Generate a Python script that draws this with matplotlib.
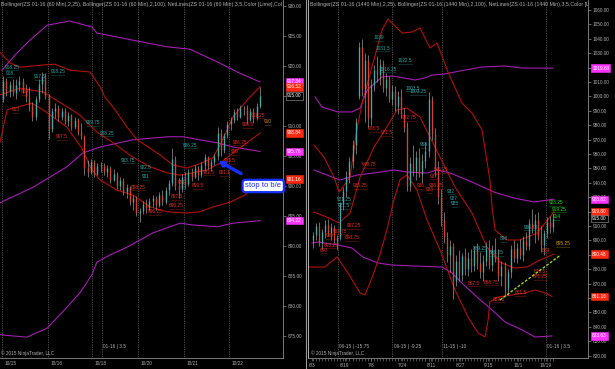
import matplotlib
matplotlib.use('Agg')
import matplotlib.pyplot as plt
from matplotlib.lines import Line2D
from matplotlib.transforms import blended_transform_factory

plt.rcParams['font.family'] = ['Liberation Sans', 'DejaVu Sans']

# ---------------- 60 min panel (left) ----------------
l_open = [914.5, 917.5, 915.75, 917, 915.5, 916.75, 917.5, 916, 914.75, 913.5,
          911.5, 914.5, 917, 918.25, 915, 909.5, 912.5, 913, 911.5, 912.5,
          910.75, 911.75, 909.75, 911, 909, 908.25, 903, 902.25, 904, 902,
          903.25, 903.5, 902.25, 903, 901, 902, 900, 901, 899, 899.75,
          897.25, 898, 895.5, 895.75, 897, 896.25, 897.5, 898, 896.75, 898.5,
          897.25, 899.25, 900.5, 904.5, 900, 899.5, 901.5, 900.25, 902.25, 901.5,
          903, 901.75, 903.5, 904.75, 903.25, 904, 905, 908.75, 906, 908.5,
          910.25, 911, 912.25, 911.5, 913, 912.75, 911, 912.5, 911.25, 913.25]
l_high = [918.25, 918, 917.5, 917.75, 917.75, 918.25, 918, 917, 916.5, 914,
          915, 917.75, 919, 918.75, 915.25, 913, 913.75, 913.5, 913, 913,
          912.25, 912, 911.5, 911.25, 910.5, 908.5, 904.25, 904.5, 904.25, 903.75,
          904, 903.75, 903.5, 903.25, 902.75, 902.25, 901.5, 901.25, 900.25, 900,
          898.5, 898.25, 896.25, 897.5, 897.75, 898, 898.5, 898.25, 899, 899.25,
          899.75, 901, 906.25, 905, 901.25, 902, 902.25, 902.75, 903, 903.5,
          903.25, 904, 905.25, 905, 904.5, 905.25, 909.75, 909.5, 908.75, 910.75,
          911.5, 912.75, 913, 913.5, 913.25, 913.5, 913, 913, 913.75, 916.5]
l_low = [914, 915, 914.75, 915, 914.5, 915.75, 915.5, 914, 912.5, 910.75,
         911, 914, 915.5, 914.5, 907.75, 909, 911.25, 910.75, 911, 910.25,
         910, 909.25, 909.5, 908.5, 907.75, 901.75, 901.5, 902, 901.5, 901.75,
         902.25, 901.75, 901.5, 900.5, 900.75, 899.5, 899.25, 898.5, 898, 896.75,
         896, 895, 894, 895.25, 895.5, 895.75, 896.5, 896, 896.5, 896.75,
         897, 898.5, 900, 899.25, 898, 899, 899.5, 900, 900.75, 901.25,
         901, 901.5, 902.5, 902.75, 902.5, 903.5, 904.25, 905, 905.5, 908,
         909.25, 910.5, 911, 911.25, 911.75, 910.25, 910.75, 910.5, 911, 913]
l_close = [917.5, 915.75, 917, 915.5, 916.75, 917.5, 916, 914.75, 913.5, 911.5,
           914.5, 917, 918.25, 915, 909.5, 912.5, 913, 911.5, 912.5, 910.75,
           911.75, 909.75, 911, 909, 908.25, 903, 902.25, 904, 902, 903.25,
           903.5, 902.25, 903, 901, 902, 900, 901, 899, 899.75, 897.25,
           898, 895.5, 895.75, 897, 896.25, 897.5, 898, 896.75, 898.5, 897.25,
           899.25, 900.5, 904.5, 900, 899.5, 901.5, 900.25, 902.25, 901.5, 903,
           901.75, 903.5, 904.75, 903.25, 904, 905, 908.75, 906, 908.5, 910.25,
           911, 912.25, 911.5, 913, 912.75, 911, 912.5, 911.25, 913.25, 915]

# bollinger (25) and (100): bar position, price
l_bb_up_x = [-1, 2.1, 5.2, 12.8, 15.9, 20.5, 26.7, 29.8, 31.3, 34.4, 38.1, 41.2, 45.2, 48.2,
             52.2, 56.5, 60.5, 64.5, 66.7, 70.7, 75, 79]
l_bb_up_y = [922.3, 920.5, 919.8, 920.2, 920.3, 919.3, 919, 916.5, 914.8, 912.7, 909.8, 907.7,
             906.3, 905.2, 903.5, 903, 903.7, 904.7, 906.8, 911.5, 914.3, 916.52]
l_bb_mid_x = [-1, 5.2, 12.2, 19.6, 23.6, 28.8, 33.8, 39.9, 45.2, 50.4, 54.4, 58.4, 62.7, 66.7,
              70.7, 75, 79]
l_bb_mid_y = [915.2, 916.3, 915.7, 913.2, 911.8, 909, 907.2, 904.8, 903.2, 902.2, 901.8,
              902.2, 902.7, 903.8, 905.5, 907.2, 908.84]
l_bb_low_x = [-1, 1.2, 8.8, 12.2, 19.6, 24.2, 26.7, 29.8, 35, 39.9, 45.2, 50.4, 56.5, 60.5,
              64.5, 69.8, 74.4, 79]
l_bb_low_y = [907.3, 912.7, 913.8, 912.7, 909.8, 906.3, 903.2, 901, 899.3, 898.5, 896.5,
              895.7, 895.5, 895.7, 896.5, 897.3, 898.5, 901.16]
l_bb100_up_x = [-0.4, 3.6, 8.2, 13.5, 20.5, 27.3, 28.8, 39.9, 50.4, 57.5, 65.8, 72.8, 79]
l_bb100_up_y = [919.3, 921.8, 924.3, 926.8, 927.5, 926.5, 925.5, 924.3, 923.2, 922.8, 920.7,
                918.8, 917.34]
l_bb100_mid_x = [-1, 9.2, 19.6, 24.5, 29.8, 39.9, 50.4, 55.3, 60.5, 65.8, 70.7, 79]
l_bb100_mid_y = [897.2, 899.8, 903.2, 905.5, 906.5, 907.7, 908.2, 908.2, 907.7, 907.2, 906.5,
                 905.76]
l_bb100_low_x = [-1, 7.3, 13.5, 19.6, 23.6, 27.3, 28.8, 32.8, 38.1, 42.1, 46.1, 54.4, 58.4,
                 65.8, 70.7, 79]
l_bb100_low_y = [875.2, 874.8, 876.3, 879.8, 882.2, 885.2, 887.3, 888.5, 889.8, 891, 892.2,
                 893.8, 893.5, 893.2, 893.8, 894.22]

l_lab_text = ['918.25', '918', '917.5', '918.25', '918', '913', '907.5', '909.75', '908.25',
              '903.75', '902.5', '901', '898.25', '896.25', '906.25', '901', '897.5', '896.25',
              '899.5', '901.5', '901.1', '903.5', '905', '906.75', '908.5', '911.25', '910']
l_lab_x = [2.7, 2.1, 11.3, 16.8, 6.7, 3.9, 18.1, 27.6, 31.9, 38.4, 43.9, 43.9, 41.5, 46.7,
           57.5, 55, 53.5, 53.2, 59.9, 63.3, 68.2, 69.8, 71.3, 72.8, 75.3, 78.4, 81.5]
l_lab_y = [919.8, 918.7, 918.2, 919, 915.7, 912.7, 908.2, 910.5, 908.8, 904.3, 903, 901.5,
           899.8, 895.7, 906.8, 900.5, 898.2, 896.7, 900, 902.3, 902.2, 904.2, 905.7, 907.3,
           910.2, 911.8, 910.7]
l_lab_kind = ['t', 't', 't', 't', 'r', 'r', 'r', 't', 't', 't', 't', 't', 'r', 'r', 't', 'r',
              'r', 'r', 'r', 'r', 'r', 'r', 'r', 'r', 'r', 'r', 'o']

l_day_x = [-0.4, 13.8, 27.3, 30.4, 41.5, 55.6, 69.5]
l_dates = ['10/15', '10/16', '10/18', '', '10/20', '10/21', '10/22']
l_tags = [917.34, 916.52, 915.00, 908.84, 905.76, 901.16, 894.22]
l_tag_kind = ['m', 'r', 'k', 'r', 'm', 'r', 'm']

# ---------------- daily panel (right) ----------------
r_open = [900, 904, 910, 898, 906, 911, 905, 909, 900, 902, 925, 934, 945, 955, 966, 1000,
          1034, 1005, 1025, 985, 1008, 1018, 1015, 1022, 1006, 1012, 998, 1004, 993, 1000,
          988, 978, 938, 954, 948, 958, 946, 955, 962, 998, 974, 950, 930, 914, 902, 890,
          896, 872, 886, 876, 889, 880, 888, 882, 893, 884, 878, 886, 895, 883, 893, 888,
          875, 882, 866, 878, 894, 888, 895, 890, 900, 896, 912, 908, 914, 903, 897, 905,
          913, 909]
r_high = [906, 912, 913, 908, 914, 915, 912, 911, 904, 927, 937, 948, 958, 970, 985, 1038,
          1040, 1030, 1029, 1012, 1022, 1028, 1026, 1025, 1016, 1014, 1008, 1007, 1004, 1005,
          992, 982, 958, 966, 962, 964, 960, 968, 1003, 1000, 978, 955, 936, 920, 906, 900,
          898, 890, 893, 891, 895, 892, 894, 896, 898, 892, 890, 899, 900, 897, 902, 894,
          886, 885, 880, 897, 900, 898, 901, 903, 906, 915, 922, 918, 920, 910, 907, 916,
          917, 918]
r_low = [895, 900, 896, 894, 902, 903, 900, 898, 893, 900, 921, 930, 940, 950, 960, 998,
         1000, 982, 978, 980, 1004, 1010, 1008, 1003, 1000, 996, 994, 990, 988, 985,
         975, 934, 934, 945, 942, 944, 940, 950, 958, 970, 945, 925, 910, 898, 885, 878,
         859, 868, 872, 872, 876, 875, 878, 879, 880, 874, 872, 882, 880, 879, 885, 872,
         868, 862, 862, 874, 885, 884, 887, 886, 893, 893, 905, 898, 900, 892, 890, 902,
         905, 906]
r_close = [904, 910, 898, 906, 911, 905, 909, 900, 902, 925, 934, 945, 955, 966, 982, 1034,
           1005, 1025, 985, 1008, 1018, 1015, 1022, 1006, 1012, 998, 1004, 993, 1000, 988,
           978, 938, 954, 948, 958, 946, 955, 962, 998, 974, 950, 930, 914, 902, 890, 896,
           872, 886, 876, 889, 880, 888, 882, 893, 884, 878, 886, 895, 883, 893, 888, 875,
           882, 866, 878, 894, 888, 895, 890, 900, 896, 912, 908, 914, 903, 897, 905, 913,
           909, 915]

r_bb_up_x = [0.3, 3.6, 6.9, 8.6, 12.2, 14.5, 16.4, 19.4, 22.7, 24.7, 29.3, 32.6, 35.2, 38.5,
             40.8, 44.4, 49, 52.3, 55.6, 58.2, 58.9, 59.9, 63.8, 68.1, 73.7, 79.3]
r_bb_up_y = [966.2, 957.9, 944, 933.6, 944, 978, 997.5, 1020.4, 1046, 1053.7, 1044, 1044.7,
             1047.5, 1033.6, 1037.1, 1017, 995.4, 988.5, 976.7, 941.9, 923.2, 907.2, 900.3,
             900.3, 905.1, 919.8]
r_bb_mid_x = [0.3, 4.6, 8.6, 12.2, 15.5, 20.1, 24.3, 27.6, 30.9, 35.2, 41.1, 46.7, 52.3, 57.2,
              61.5, 66.1, 70.4, 74.7, 79.3]
r_bb_mid_y = [919.7, 916.2, 912.1, 919, 944, 964.9, 978.7, 990.6, 991.9, 985.7, 960.7, 937.1,
              919, 895.4, 885, 880.8, 881.5, 886.4, 890.48]
r_bb_low_x = [-1.6, 3.9, 7.9, 11.5, 15.5, 17.1, 19.4, 22, 24.3, 26.6, 28.6, 30.9, 34.2, 37.5,
              41.8, 46.7, 51, 54.3, 56.6, 57.6, 58.2, 60.9, 65.5, 69.7, 73, 76.3, 78.6]
r_bb_low_y = [881.5, 881.5, 888.5, 877.4, 863.5, 862.1, 873.9, 889.9, 907.2, 928, 942,
              945.4, 935, 914.2, 893.3, 865.6, 846.8, 835.7, 832.9, 844.7, 857.2, 860.7,
              862.1, 863.5, 865.6, 863.5, 861.16]
r_bb100_up_x = [0.7, 3, 8.2, 12.8, 15.5, 17.8, 22.7, 26, 33.6, 36.8, 39.1, 43.4, 50, 55.6,
                63.2, 68.8, 78.9]
r_bb100_up_y = [999.6, 992.6, 989.2, 989.2, 991.9, 1004.4, 1013.5, 1014.2, 1011.4, 1012.8,
                1014.8, 1015.6, 1018.3, 1020.4, 1021.1, 1019.7, 1019.6]
r_bb100_mid_x = [0.3, 4.6, 8.9, 14.5, 20.1, 26.6, 30.9, 37.5, 40.8, 45.1, 53, 59.5, 66.1,
                 72.7, 79.3]
r_bb100_mid_y = [948.9, 945.4, 941.9, 945.4, 946.8, 948.9, 947.5, 946.8, 948.9, 946.8, 939.9,
                 933.6, 929.4, 926.7, 928.62]
r_bb100_low_x = [-0.3, 1.6, 8.2, 12.8, 16.4, 21.4, 26, 33.6, 42.4, 45.7, 49, 54.3, 58.9,
                 63.2, 68.8, 73, 78.6]
r_bb100_low_y = [898.2, 898.9, 896.8, 894.7, 888.5, 884.3, 882.9, 882.2, 881.5, 877.4, 870.4,
                 860, 851.7, 843.3, 837.8, 832.9, 833.63]

r_lab_text = ['1039', '1031.5', '1022.5', '1016.25', '1003.5', '1003.25', '968', '932', '927',
              '923', '921.25', '921.5', '906.75', '898', '889.25', '888.25',
              '978.5', '971.5', '982.75', '949.75', '935.25', '907.25', '903.75', '898.75',
              '900', '893.25', '890', '946.25', '937', '938.25', '936', '933', '867.5',
              '868.75', '859.5', '861.5', '876.5', '871.75', '889',
              '923.25', '919.25', '914', '895.25']
r_lab_x = [21.7, 23, 30.3, 24.7, 32.9, 34.5, 36.5, 45.4, 46.4, 46.7, 10.2, 10.2, 71.7, 62.8,
           54.9, 60.2,
           20.1, 24.3, 31.6, 18.4, 15.5, 13.5, 8.9, 12.8, 5.3, 5.9, 3.6, 42.1, 39.8, 40.5,
           35.5, 38.5, 53, 58.6, 61.2, 68.4, 74.7, 74.7, 76.6,
           79.9, 80.9, 80.3, 82.2]
r_lab_y = [1041.2, 1033.6, 1024.6, 1019, 1005.8, 1003.1, 966.9, 934.3, 929.4, 925.3, 928.7,
           923.9, 909.3, 901, 894.7, 891.9,
           978, 974.6, 985, 952.4, 937.8, 910, 906.5, 901.7, 903.1, 896.8, 893.3, 948.9,
           944.7, 938.4, 937.8, 935, 870.4, 871.1, 859.3, 863.5, 878.1, 874.6, 893.3,
           926, 921.8, 916.9, 897.5]
r_lab_kind = ['t'] * 16 + ['r'] * 23 + ['g', 'g', 'g', 'o']

r_day_x = [8.2, 26.0, 42.4, 76.6]
r_roll_text = ['06-15 | -15.75', '09-15 | -9.25', '11-15 | -10', '01-16 | 3.5']
r_date_x = [-0.3, 10.5, 19.1, 29.3, 38.8, 48.4, 57.6, 67.4, 76.6]
r_dates = ['6/3', '6/19', '7/8', '7/24', '8/11', '8/27', '9/15', '10/1', '10/19']
r_tags = [1019.60, 928.62, 919.80, 915.00, 890.48, 861.16, 833.63]
r_tag_kind = ['m', 'm', 'r', 'k', 'r', 'r', 'm']

trend_x = [61.5, 81.5]
trend_y = [858.6, 889.9]

# ---------------- styling ----------------
BG = 'black'
UP = '#4aa8a8'
DN = '#d4442c'
WICK = '#a8a8a8'
BBRED = '#b0120a'
PURP = '#a21fb0'
GRID = '#8a8a8a'
TXT = '#b0b0b0'
lab_col = {'t': '#2fa8a8', 'r': '#e8321e', 'o': '#d8901a', 'g': '#22e022'}
tag_col = {'m': '#ff33ff', 'r': '#ff2a10', 'k': 'black'}

fig = plt.figure(figsize=(6.15, 3.69), dpi=100, facecolor=BG)
axL = fig.add_axes([0, 11 / 369, 283 / 615, 358 / 369])
axR = fig.add_axes([308 / 615, 11 / 369, 280 / 615, 358 / 369])


def candles(ax, o, h, l, c, bw):
    for i in range(len(o)):
        col = UP if c[i] >= o[i] else DN
        ax.vlines(i, l[i], h[i], color=WICK, lw=0.45, zorder=3)
        lo, hi = min(o[i], c[i]), max(o[i], c[i])
        ax.vlines(i, lo, hi if hi > lo else lo + 0.2, color=col, lw=bw, zorder=4)


def labels(ax, txt, xs, ys, kinds, du, dy):
    for t, x, y, k in zip(txt, xs, ys, kinds):
        ax.text(x, y, t, color=lab_col[k], fontsize=3.4, ha='center', va='center', zorder=6)
        w = len(t) * du
        ax.plot([x - w, x + w], [y - dy, y - dy], color=lab_col[k], lw=0.5, ls=(0, (0.6, 0.9)),
                zorder=6)


def tags(ax, vals, kinds):
    for v, k in zip(vals, kinds):
        ax.annotate('%.2f' % v, xy=(1, v), xycoords=('axes fraction', 'data'),
                    xytext=(3, 0), textcoords='offset points', fontsize=3.4,
                    color='white', va='center', ha='left', annotation_clip=False, zorder=10,
                    bbox=dict(boxstyle='square,pad=0.25', fc=tag_col[k],
                              ec='#a0a0a0' if k == 'k' else tag_col[k], lw=0.4))


for ax in (axL, axR):
    ax.set_facecolor(BG)
    for s in ax.spines.values():
        s.set_color(GRID)
        s.set_linewidth(0.6)
    ax.spines['top'].set_visible(False)
    ax.yaxis.tick_right()
    ax.tick_params(axis='y', colors=GRID, labelcolor=TXT, labelsize=3.4, length=2.5,
                   width=0.5, pad=1)

# left panel
axL.spines['left'].set_visible(False)
axL.set_xlim(-1, 86.08)
axL.set_ylim(871.33, 931)
axL.set_yticks(range(875, 931, 5))
axL.set_yticklabels(['%.2f' % v for v in range(875, 931, 5)])
axL.set_xticks([])
for x in l_day_x:
    axL.axvline(x, color=GRID, lw=0.5, ls=(0, (1, 1.5)), zorder=1)
trL = blended_transform_factory(axL.transData, axL.transAxes)
for x, d in zip(l_day_x, l_dates):
    axL.text(x + 0.8, -0.008, d, transform=trL, color=TXT, fontsize=3.4, va='top', ha='left',
             clip_on=False)
axL.plot(l_bb100_up_x, l_bb100_up_y, color=PURP, lw=0.8, zorder=2)
axL.plot(l_bb100_mid_x, l_bb100_mid_y, color=PURP, lw=0.8, zorder=2)
axL.plot(l_bb100_low_x, l_bb100_low_y, color=PURP, lw=0.8, zorder=2)
axL.plot(l_bb_up_x, l_bb_up_y, color=BBRED, lw=0.8, zorder=2)
axL.plot(l_bb_mid_x, l_bb_mid_y, color=BBRED, lw=0.8, zorder=2)
axL.plot(l_bb_low_x, l_bb_low_y, color=BBRED, lw=0.8, zorder=2)
candles(axL, l_open, l_high, l_low, l_close, 1.0)
labels(axL, l_lab_text, l_lab_x, l_lab_y, l_lab_kind, 0.33, 0.55)
tags(axL, l_tags, l_tag_kind)
axL.text(0.002, 0.995, 'Bollinger(ZS 01-16 (60 Min),2,25), Bollinger(ZS 01-16 (60 Min),2,100), '
         'NetLines(ZS 01-16 (60 Min),3,5,Color [Lime],Col',
         transform=axL.transAxes, color=TXT, fontsize=3.8, va='top', ha='left', clip_on=True)
axL.text(30.7, 873.3, '01-16 | 3.5', color=TXT, fontsize=3.4, ha='left', va='center')
axL.text(0.004, 0.006, '\u00a9 2015 NinjaTrader, LLC', transform=axL.transAxes, color=TXT,
         fontsize=3.4, ha='left', va='bottom')
axL.annotate('stop to b/e', xy=(66.1, 904.2), xytext=(80, 900),
             color='#1830ff', fontsize=5.5, ha='center', va='center', zorder=12,
             bbox=dict(boxstyle='round,pad=0.35', fc='white', ec='#1830ff', lw=1.6),
             arrowprops=dict(arrowstyle='-|>', color='#1830ff', lw=2.4, mutation_scale=7,
                             shrinkA=8, shrinkB=0))

# right panel
axR.set_xlim(-1.64, 90.46)
axR.set_ylim(818.33, 1066.94)
axR.set_yticks(range(820, 1061, 10))
axR.set_yticklabels(['%.2f' % v for v in range(820, 1061, 10)])
axR.set_xticks(r_date_x)
axR.set_xticklabels(r_dates)
axR.set_xticks(range(0, 80), minor=True)
axR.tick_params(axis='x', which='both', colors=GRID, labelcolor=TXT, labelsize=3.4,
                length=2, width=0.4, pad=1.5)
axR.spines['left'].set_color('#d0d0d0')
for x in r_day_x:
    axR.axvline(x, color=GRID, lw=0.5, ls=(0, (1, 1.5)), zorder=1)
for x, t in zip(r_day_x, r_roll_text):
    axR.text(x + 0.5, 826.5, t, color=TXT, fontsize=3.4, ha='left', va='center')
axR.plot(r_bb100_up_x, r_bb100_up_y, color=PURP, lw=0.8, zorder=2)
axR.plot(r_bb100_mid_x, r_bb100_mid_y, color=PURP, lw=0.8, zorder=2)
axR.plot(r_bb100_low_x, r_bb100_low_y, color=PURP, lw=0.8, zorder=2)
axR.plot(r_bb_up_x, r_bb_up_y, color=BBRED, lw=0.8, zorder=2)
axR.plot(r_bb_mid_x, r_bb_mid_y, color=BBRED, lw=0.8, zorder=2)
axR.plot(r_bb_low_x, r_bb_low_y, color=BBRED, lw=0.8, zorder=2)
candles(axR, r_open, r_high, r_low, r_close, 0.95)
labels(axR, r_lab_text, r_lab_x, r_lab_y, r_lab_kind, 0.36, 2.4)
tags(axR, r_tags, r_tag_kind)
axR.plot(trend_x, trend_y, color='#9ad21e', lw=1.0, ls=(0, (2, 1.2)), zorder=7)
axR.text(0.006, 0.995, 'Bollinger(ZS 01-16 (1440 Min),2,25), Bollinger(ZS 01-16 (1440 Min),2,100), '
         'NetLines(ZS 01-16 (1440 Min),3,5,Color [L',
         transform=axR.transAxes, color=TXT, fontsize=3.8, va='top', ha='left', clip_on=True)
axR.text(0.01, 0.006, '\u00a9 2015 NinjaTrader, LLC', transform=axR.transAxes, color=TXT,
         fontsize=3.4, ha='left', va='bottom')

fig.add_artist(Line2D([306 / 615, 306 / 615], [0, 1], color='#9a9a9a', lw=0.8))

fig.savefig('out.png', dpi=100, facecolor=BG)
